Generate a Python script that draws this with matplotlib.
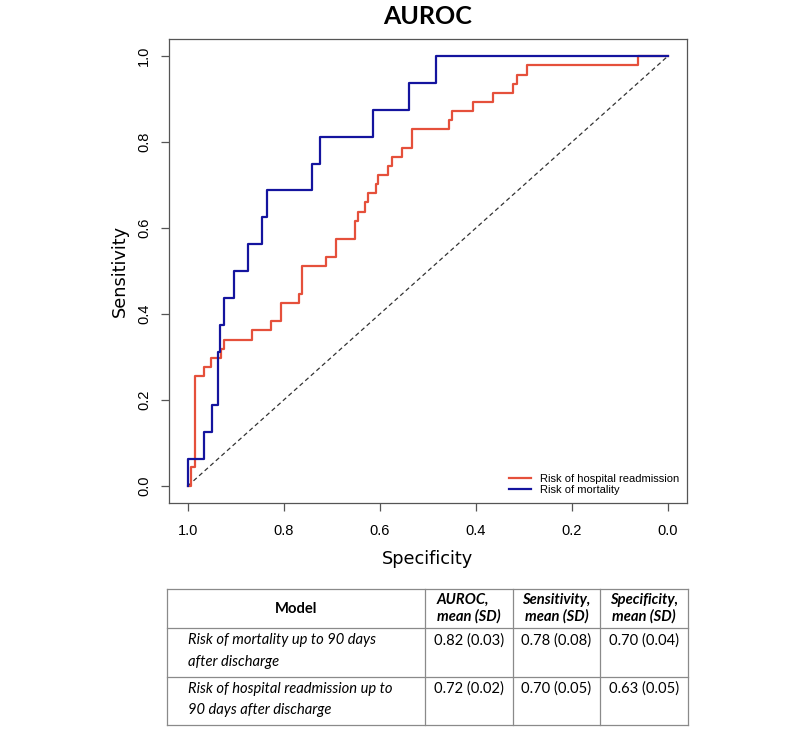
import matplotlib
matplotlib.use("Agg")
import matplotlib.pyplot as plt

# ROC step vertices (specificity, sensitivity) ---------------------------
mort_spec = [1.0, 0.966, 0.949, 0.937, 0.933, 0.925, 0.903, 0.874, 0.845,
             0.835, 0.742, 0.724, 0.615, 0.540, 0.483, 0.0]
mort_sens = [0.0, 0.0625, 0.125, 0.1875, 0.3125, 0.375, 0.4375, 0.5, 0.5625,
             0.625, 0.6875, 0.75, 0.8125, 0.875, 0.9375, 1.0]

readm_spec = [1.0, 0.994, 0.985, 0.966, 0.952, 0.931, 0.924, 0.867, 0.826,
              0.805, 0.769, 0.763, 0.713, 0.692, 0.651, 0.645, 0.630, 0.624,
              0.609, 0.603, 0.582, 0.575, 0.553, 0.532, 0.455, 0.449, 0.405,
              0.364, 0.322, 0.315, 0.294, 0.0625, 0.0]
readm_sens = [0.0, 0.0, 0.043, 0.255, 0.277, 0.298, 0.319, 0.340, 0.362,
              0.383, 0.426, 0.447, 0.511, 0.532, 0.574, 0.617, 0.638, 0.660,
              0.681, 0.702, 0.723, 0.745, 0.766, 0.787, 0.830, 0.851, 0.872,
              0.894, 0.915, 0.936, 0.957, 0.979, 1.0]

ticks = [1.0, 0.8, 0.6, 0.4, 0.2, 0.0]
tick_labels = ["1.0", "0.8", "0.6", "0.4", "0.2", "0.0"]

# Summary table -----------------------------------------------------------
col_headers = ["Model", "AUROC,\nmean (SD)", "Sensitivity,\nmean (SD)",
               "Specificity,\nmean (SD)"]
row_models = ["Risk of mortality up to 90 days\nafter discharge",
              "Risk of hospital readmission up to\n90 days after discharge"]
auroc_vals = ["0.82 (0.03)", "0.72 (0.02)"]
sens_vals = ["0.78 (0.08)", "0.70 (0.05)"]
spec_vals = ["0.70 (0.04)", "0.63 (0.05)"]

RED = "#E5503B"
BLUE = "#14149E"

fig = plt.figure(figsize=(8, 7.32), dpi=100)
W, H = 800, 732
ax = fig.add_axes([168.7 / W, 1 - 503 / H, (687 - 168.7) / W, (503 - 39) / H])

ax.plot([1, 0], [0, 1], color="#333333", lw=0.9, ls=(0, (3.5, 2.5)))
ax.plot(readm_spec, readm_sens, drawstyle="steps-pre", color=RED, lw=1.6,
        label="Risk of hospital readmission")
ax.plot(mort_spec, mort_sens, drawstyle="steps-pre", color=BLUE, lw=1.6,
        label="Risk of mortality")

ax.set_xlim(1.04, -0.04)
ax.set_ylim(-0.04, 1.04)
ax.set_xticks(ticks)
ax.set_xticklabels(tick_labels, fontfamily="Liberation Sans", fontsize=10.5)
ax.set_yticks(ticks)
ax.set_yticklabels(tick_labels, fontfamily="Liberation Sans", fontsize=10.5,
                   rotation=90, va="center")
ax.tick_params(length=6, width=0.9, color="#555555", pad=9)
ax.tick_params(axis="y", pad=6.5)
for sp in ax.spines.values():
    sp.set_color("#555555")
    sp.set_linewidth(0.9)

ax.set_xlabel("Specificity", fontsize=12.8, labelpad=9)
ax.set_ylabel("Sensitivity", fontsize=12.8, labelpad=6)
ax.set_title("AUROC", fontfamily="Lato", fontweight="bold", fontsize=18,
             pad=11)

ax.legend(loc="lower right", frameon=False, prop={"family": "Liberation Sans",
          "size": 8}, handlelength=2.0, handletextpad=0.8, labelspacing=0.15,
          borderaxespad=0.3)

# Table drawn in pixel coordinates on an overlay axes
tab = fig.add_axes([0, 0, 1, 1], zorder=-1)
tab.set_xlim(0, W)
tab.set_ylim(H, 0)
tab.axis("off")

col_edges = [167.3, 424.8, 512.7, 600.0, 687.7]
row_edges = [589, 628.3, 676.7, 725]
line_kw = dict(color="#8a8a8a", lw=0.9)
for x in col_edges:
    tab.plot([x, x], [row_edges[0], row_edges[-1]], **line_kw)
for y in row_edges:
    tab.plot([col_edges[0], col_edges[-1]], [y, y], **line_kw)

tfont = "Lato"
tsize = 10.6
hy = (row_edges[0] + row_edges[1]) / 2
tab.text((col_edges[0] + col_edges[1]) / 2, hy, col_headers[0],
         ha="center", va="center", family=tfont, size=tsize, weight="bold")
for j in range(1, 4):
    cx = (col_edges[j] + col_edges[j + 1]) / 2
    tab.text(cx, hy, col_headers[j], ha="center", va="center",
             family=tfont, size=tsize, weight="bold", style="italic",
             multialignment="left" if j == 1 else "center", linespacing=1.2)

for i, model in enumerate(row_models):
    y0 = row_edges[i + 1] + 5
    tab.text(188, y0, model, ha="left", va="top", family=tfont, size=tsize,
             style="italic", linespacing=1.7)
    for j, vals in enumerate([auroc_vals, sens_vals, spec_vals], start=1):
        cx = (col_edges[j] + col_edges[j + 1]) / 2
        tab.text(cx, y0, vals[i], ha="center", va="top", family=tfont,
                 size=tsize)

fig.savefig("out.png", dpi=100)
